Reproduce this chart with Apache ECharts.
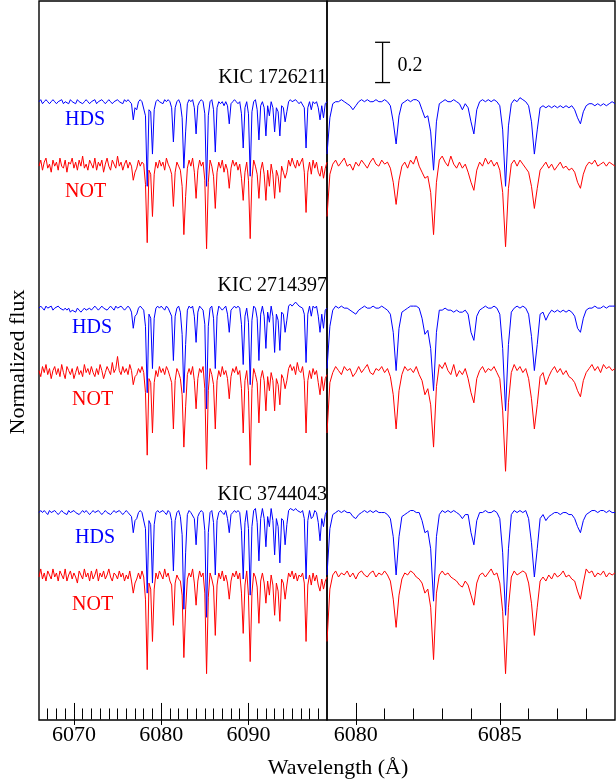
<!DOCTYPE html>
<html><head><meta charset="utf-8">
<script src="https://cdn.jsdelivr.net/npm/echarts@6/dist/echarts.min.js"></script>
<style>html,body{margin:0;padding:0;background:#fff}#c{width:616px;height:782px}</style>
</head><body><div id="c"></div>
<script>
// ---- labels / ticks ----
const starNames = ['KIC 1726211', 'KIC 2714397', 'KIC 3744043'];
const instrumentNames = ['HDS', 'NOT'];
const xTitle = 'Wavelength (Å)';
const yTitle = 'Normalized flux';
const leftMajorTicks = [6070, 6080, 6090];
const leftMinorTicks = [6067,6068,6069,6071,6072,6073,6074,6075,6076,6077,6078,6079,6081,6082,6083,6084,6085,6086,6087,6088,6089,6091,6092,6093,6094,6095,6096,6097,6098];
const rightMajorTicks = [6080, 6085];
const rightMinorTicks = [6081,6082,6083,6084,6086,6087,6088];
const scaleBarValue = 0.2;

// wavelength sampling of the spectra (Å): start and step
const leftStart = 6066.0, leftStep = 0.2;   // 166 samples, 6066.0 .. 6099.0
const rightStart = 6079.0, rightStep = 0.1; // 101 samples, 6079.0 .. 6089.0

// ---- normalized flux (percent), left panel ----
const leftHds1 = [
100,101,99,100,101,100,99,100,101,100,
99,100,100,101,99,100,100,99,101,100,
100,99,101,100,100,99,100,101,100,99,
100,100,101,99,100,100,101,100,99,100,
101,100,99,100,100,101,100,100,99,101,
100,101,100,99,91,97,96,100,101,100,
100,93,58,96,95,74,96,100,101,100,
100,99,101,100,101,100,97,80,97,100,
101,99,92,67,85,99,101,100,101,97,
84,98,100,101,100,94,58,93,100,101,
96,75,97,100,99,100,98,100,98,89,
99,100,101,100,99,100,94,77,97,100,
94,63,95,100,101,96,81,98,100,97,
83,98,93,100,97,85,97,95,83,98,
97,90,95,100,101,100,100,101,100,99,
100,100,97,77,97,100,96,100,99,100,
97,91,98,92,99,100];
const leftNot1 = [
99,102,97,101,103,98,100,96,102,99,
101,97,103,99,98,102,96,101,100,103,
98,101,97,102,99,104,98,100,97,102,
100,98,103,97,101,99,102,96,100,103,
99,97,102,100,98,104,99,101,97,100,
102,98,101,99,92,96,98,102,99,101,
100,90,61,97,95,74,95,101,98,102,
99,101,97,103,100,98,95,79,96,101,
99,97,89,65,84,98,102,99,103,96,
83,97,102,99,101,92,58,91,102,99,
94,78,96,101,98,102,96,100,97,88,
98,102,99,101,97,100,93,82,96,101,
92,63,93,102,99,95,83,97,101,95,
82,97,89,100,95,83,97,94,86,99,
96,93,96,102,99,103,100,98,102,99,
101,103,96,76,96,101,95,102,98,101,
96,94,99,93,98,101];
const leftHds2 = [
100,101,100,99,101,100,100,101,99,100,
100,101,100,100,99,100,99,100,98,99,
99,98,100,99,98,99,100,99,99,100,
99,100,101,100,99,100,101,100,100,99,
100,101,100,99,101,100,100,101,100,99,
100,101,100,98,90,96,97,100,101,100,
99,91,58,97,95,70,95,100,101,100,
101,100,99,101,100,100,96,74,96,100,
101,98,87,58,82,99,101,100,101,96,
83,98,101,100,99,92,50,91,100,101,
95,70,96,101,100,99,100,101,97,88,
99,100,101,100,101,100,92,72,96,100,
93,62,94,101,100,95,74,97,101,96,
80,98,93,101,96,78,97,94,79,98,
97,88,94,101,102,101,102,103,102,101,
101,100,97,73,97,101,96,101,100,101,
96,88,97,90,99,100];
const leftNot2 = [
100,97,102,99,103,98,101,96,100,102,
98,101,97,103,99,96,102,100,98,101,
96,99,102,98,100,97,103,99,101,98,
102,99,97,101,98,103,100,96,99,102,
100,98,104,99,101,107,100,98,102,99,
101,98,103,100,93,97,98,101,99,102,
99,89,58,96,94,69,94,100,97,102,
99,101,98,102,100,97,94,71,95,101,
99,96,88,62,82,98,101,98,102,95,
81,96,101,99,102,91,51,90,101,98,
93,71,95,100,97,102,98,100,96,86,
97,101,99,102,98,100,91,69,95,100,
90,53,91,101,98,94,74,96,100,95,
80,97,90,99,95,80,96,93,83,98,
96,91,95,101,103,100,102,98,104,100,
99,102,95,69,95,100,96,101,98,100,
94,88,97,90,96,98];
const leftHds3 = [
100,101,100,101,100,99,101,100,100,101,
100,99,100,101,100,100,99,101,100,100,
101,100,100,99,100,101,100,101,100,99,
100,101,100,100,101,100,99,100,101,100,
100,99,100,101,100,100,101,100,99,100,
101,100,100,98,90,96,97,100,101,100,
100,92,60,96,94,65,94,100,101,100,
100,101,100,99,101,100,96,71,96,100,
101,98,89,52,80,99,101,100,100,97,
84,98,100,101,100,91,48,90,100,101,
95,69,96,100,101,100,99,101,97,90,
99,100,101,100,101,100,91,67,95,101,
92,59,93,101,102,95,76,97,102,97,
83,98,93,102,96,79,97,93,75,97,
96,84,94,101,102,102,101,102,101,101,
100,101,97,67,96,101,97,98,101,100,
95,86,97,93,99,101];
const leftNot3 = [
99,103,98,101,97,102,100,98,103,99,
101,97,102,100,98,103,97,100,102,98,
101,99,96,102,100,98,103,99,101,97,
102,98,100,103,97,101,99,102,98,100,
103,99,97,101,100,98,102,99,101,97,
100,98,102,97,91,96,98,101,98,102,
99,88,53,96,93,67,93,101,98,102,
100,98,103,99,101,97,95,75,96,100,
98,97,90,59,83,98,101,99,103,96,
85,97,102,99,101,91,51,89,101,98,
94,70,95,101,98,102,97,100,96,88,
97,101,99,102,98,101,91,71,95,102,
90,57,91,101,99,94,76,97,101,96,
86,97,90,100,95,80,96,92,77,98,
96,88,95,101,99,102,98,101,97,100,
99,101,96,67,95,100,95,101,97,100,
95,92,98,93,97,99];

// ---- normalized flux (percent), right panel ----
const rightHds1 = [
74,92,99,100,100,101,100,99,98,96,
98,100,101,100,101,100,100,101,100,100,
101,100,98,90,79,93,99,100,101,100,
101,101,100,96,92,93,85,66,90,99,
100,101,100,100,101,100,99,96,99,97,
90,84,96,100,101,100,101,100,101,100,
98,86,58,88,99,101,100,102,101,100,
98,90,74,86,97,98,97,98,97,98,
97,98,97,98,97,98,96,92,89,95,
98,99,99,98,99,98,99,98,99,100,
99];
const rightNot1 = [
74,95,100,102,99,101,103,99,100,97,
101,99,102,100,98,101,103,100,99,102,
100,101,98,91,80,92,99,101,98,102,
100,104,99,96,93,94,86,65,91,102,
104,101,99,104,100,98,101,98,100,96,
91,87,97,101,99,103,100,102,99,101,
97,86,59,88,100,102,99,102,100,98,
96,89,78,88,97,99,101,98,100,97,
99,101,98,99,97,98,96,91,88,95,
99,101,100,102,99,100,101,99,101,100,
99];
const rightHds2 = [
70,91,99,101,100,101,100,100,99,98,
97,99,100,101,100,100,101,100,100,101,
100,99,97,88,69,90,98,99,100,101,
101,101,100,95,87,89,80,59,88,99,
99,100,99,99,98,99,98,98,99,97,
88,84,96,99,100,101,100,100,101,100,
97,80,49,82,98,100,101,100,101,100,
97,86,69,82,97,98,94,97,99,98,
99,98,99,98,99,98,96,90,88,95,
99,100,100,101,100,100,101,100,101,101,
101];
const rightNot2 = [
69,94,99,102,100,98,102,100,101,97,
99,102,99,101,103,99,98,101,100,102,
99,101,97,88,71,90,98,102,100,101,
99,102,98,95,88,91,83,62,92,103,
101,104,100,98,103,97,100,98,101,96,
89,84,96,100,102,99,101,100,102,99,
96,80,50,84,99,103,100,102,99,101,
96,86,71,83,97,99,93,97,100,102,
99,101,98,100,97,96,94,90,87,95,
99,101,103,100,102,99,103,101,102,100,
101];
const rightHds3 = [
69,92,99,100,101,100,101,100,100,98,
97,99,100,101,100,101,100,101,100,100,
100,99,97,88,69,88,98,99,100,101,
101,100,100,96,90,91,82,56,88,99,
101,100,101,100,101,100,99,97,99,99,
90,84,96,100,100,101,100,100,101,100,
97,80,49,82,99,101,100,101,100,101,
97,85,68,82,97,99,96,98,99,100,
100,99,100,100,99,99,97,93,90,96,
99,100,101,101,100,101,101,100,101,100,
100];
const rightNot3 = [
67,93,100,102,99,101,100,102,99,101,
98,101,102,100,99,101,102,99,101,100,
102,100,97,88,74,90,98,101,100,102,
101,99,98,96,91,93,84,58,91,100,
102,100,101,99,98,97,95,94,97,95,
90,85,96,100,101,99,101,103,100,101,
96,82,51,84,99,102,100,101,102,101,
96,86,70,84,97,99,97,100,98,101,
99,100,102,99,100,98,97,92,88,96,
103,101,102,99,101,100,102,99,101,100,
101];

// ---- layout / style (not data) ----
const HDS_COLOR = '#0000ff', NOT_COLOR = '#ff0000';
const hdsOffset = [2.04, 1.015, 0.0];
const notOffset = [1.73, 0.705, -0.31];
const Y_MIN = -0.03, Y_MAX = 3.54;
const GRID_TOP = 1, GRID_H = 719, GRID_W = 288;
const PANEL_LEFT = [39, 327];
const PANEL_RANGE = [[6066, 6099], [6079, 6089]];
const FONT = '"Liberation Serif"';
const MAJOR_LEN = 11, MINOR_LEN = 5.5;

const chart = echarts.init(document.getElementById('c'), null, {renderer: 'canvas'});

function toSeries(arr, start, step, off, xi, yi, color, z) {
  return {
    type: 'line', xAxisIndex: xi, yAxisIndex: yi, z: z,
    data: arr.map((v, i) => [Math.round((start + i * step) * 100) / 100, v / 100 + off]),
    showSymbol: false, symbol: 'none', silent: true, animation: false,
    lineStyle: {width: 1, color: color}, itemStyle: {color: color}
  };
}

// Grids: 0,1 = main panels; then overlays of the same rectangles that only carry tick axes
// (each overlay grid owns exactly one x axis, so every tick set is a regular ECharts axis).
const grids = [], xAxes = [], yAxes = [];
function addGrid(panel, showFrame) {
  grids.push({left: PANEL_LEFT[panel], top: GRID_TOP, width: GRID_W, height: GRID_H,
    show: showFrame, borderColor: '#000', borderWidth: 1.4, backgroundColor: 'transparent',
    containLabel: false, outerBoundsMode: 'none'});
  const gi = grids.length - 1;
  yAxes.push({type: 'value', gridIndex: gi, min: Y_MIN, max: Y_MAX, show: false});
  return gi;
}
function addXAxis(gi, panel, position, ticks, len, withLabels) {
  xAxes.push({type: 'value', gridIndex: gi, min: PANEL_RANGE[panel][0], max: PANEL_RANGE[panel][1],
    position: position, axisLine: {show: false}, splitLine: {show: false},
    axisTick: {show: true, inside: true, length: len, customValues: ticks, lineStyle: {color: '#000', width: 1}},
    axisLabel: {show: true, customValues: ticks, color: '#000', fontFamily: 'Liberation Serif', fontSize: 22, margin: 4,
      formatter: withLabels ? (v => String(Math.round(v))) : (() => '')}});
}
const panelMajor = [leftMajorTicks, rightMajorTicks];
const panelMinor = [leftMinorTicks, rightMinorTicks];
for (let p = 0; p < 2; p++) {            // main grids 0 and 1
  const gi = addGrid(p, true);
  addXAxis(gi, p, 'bottom', panelMajor[p], MAJOR_LEN, true);
}
for (let p = 0; p < 2; p++) {            // overlays: bottom minor, top major, top minor
  addXAxis(addGrid(p, false), p, 'bottom', panelMinor[p], MINOR_LEN, false);
  addXAxis(addGrid(p, false), p, 'top', panelMajor[p], MAJOR_LEN, false);
  addXAxis(addGrid(p, false), p, 'top', panelMinor[p], MINOR_LEN, false);
}

const leftSets = [[leftHds1, leftNot1], [leftHds2, leftNot2], [leftHds3, leftNot3]];
const rightSets = [[rightHds1, rightNot1], [rightHds2, rightNot2], [rightHds3, rightNot3]];
const series = [];
for (let s = 0; s < 3; s++) {
  series.push(toSeries(leftSets[s][1], leftStart, leftStep, notOffset[s], 0, 0, NOT_COLOR, 2));
  series.push(toSeries(leftSets[s][0], leftStart, leftStep, hdsOffset[s], 0, 0, HDS_COLOR, 3));
  series.push(toSeries(rightSets[s][1], rightStart, rightStep, notOffset[s], 1, 1, NOT_COLOR, 2));
  series.push(toSeries(rightSets[s][0], rightStart, rightStep, hdsOffset[s], 1, 1, HDS_COLOR, 3));
}

chart.setOption({
  animation: false,
  backgroundColor: '#fff',
  grid: grids,
  xAxis: xAxes,
  yAxis: yAxes,
  series: series
});

// ---- annotations ----
function txt(text, x, y, size, color, align, rot) {
  return {type: 'text', x: x, y: y, rotation: rot || 0, z: 10,
    style: {text: text, font: size + 'px ' + FONT, fill: color,
      textAlign: align, align: align, textVerticalAlign: 'middle', verticalAlign: 'middle'}};
}
const g = [];
const kicY = [77.5, 285.5, 494.5];
const hdsPos = [[65, 120], [72, 328], [75, 538]];
const notPos = [[65, 192], [72, 400], [72, 605]];
for (let s = 0; s < 3; s++) {
  g.push(txt(starNames[s], 327, kicY[s], 20, '#000', 'right'));
  g.push(txt(instrumentNames[0], hdsPos[s][0], hdsPos[s][1], 20, HDS_COLOR, 'left'));
  g.push(txt(instrumentNames[1], notPos[s][0], notPos[s][1], 20, NOT_COLOR, 'left'));
}
g.push(txt(yTitle, 18, 362, 22, '#000', 'center', Math.PI / 2));
g.push(txt(xTitle, 338, 768, 22, '#000', 'center'));

// scale bar of 0.2 in flux, drawn through the right panel's axes
const barX = 6080.93, barTop = 3.335;
const p1 = chart.convertToPixel({xAxisIndex: 1, yAxisIndex: 1}, [barX, barTop]);
const p2 = chart.convertToPixel({xAxisIndex: 1, yAxisIndex: 1}, [barX, barTop - scaleBarValue]);
g.push({type: 'line', shape: {x1: p1[0], y1: p1[1], x2: p2[0], y2: p2[1]}, style: {stroke: '#000', lineWidth: 1.3}, z: 10});
g.push({type: 'line', shape: {x1: p1[0] - 7.5, y1: p1[1], x2: p1[0] + 7.5, y2: p1[1]}, style: {stroke: '#000', lineWidth: 1.3}, z: 10});
g.push({type: 'line', shape: {x1: p2[0] - 7.5, y1: p2[1], x2: p2[0] + 7.5, y2: p2[1]}, style: {stroke: '#000', lineWidth: 1.3}, z: 10});
g.push(txt(String(scaleBarValue), p1[0] + 15, (p1[1] + p2[1]) / 2 + 3, 20, '#000', 'left'));

chart.setOption({graphic: g});
</script>
</body></html>
